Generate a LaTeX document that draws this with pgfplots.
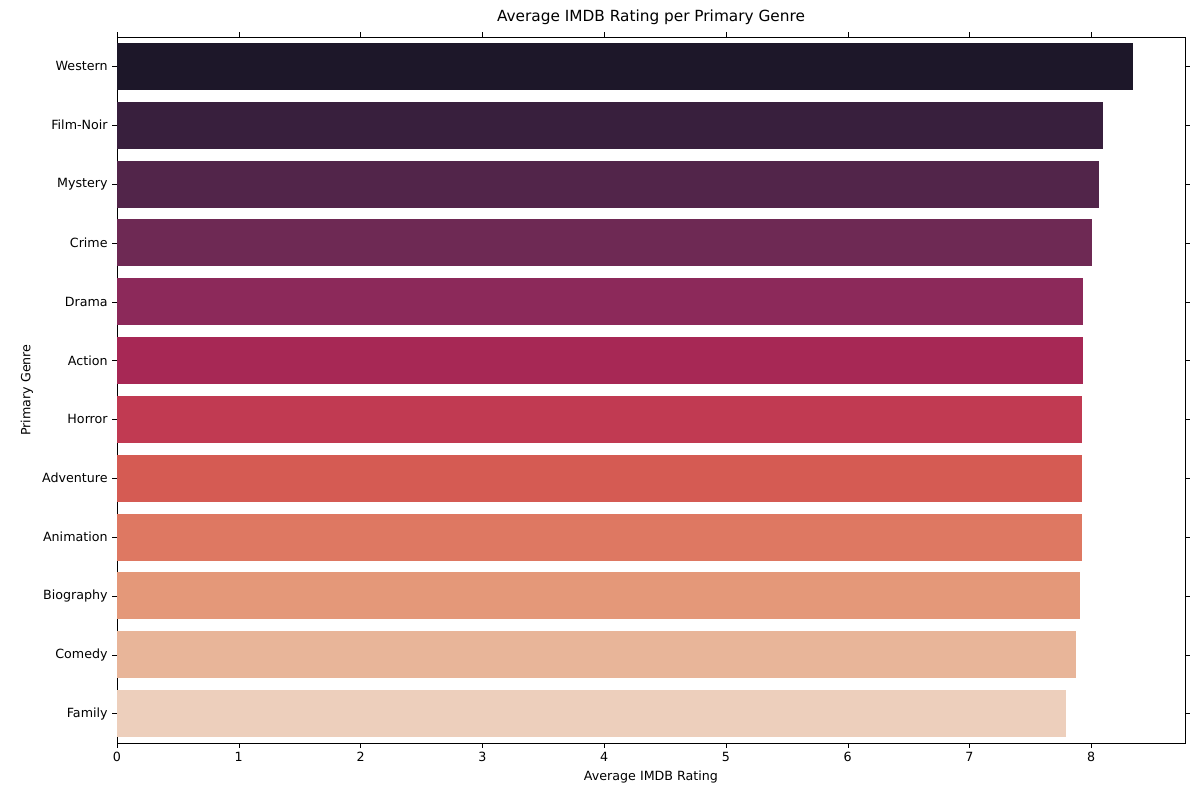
\documentclass[border=0pt]{standalone}
\usepackage{pgfplots}
\pgfplotsset{compat=1.18}
\usepackage{fontspec}
\setmainfont{DejaVu Sans}
\usetikzlibrary{calc}
\definecolor{c0}{RGB}{29,23,41}
\definecolor{c1}{RGB}{56,31,61}
\definecolor{c2}{RGB}{82,37,74}
\definecolor{c3}{RGB}{110,41,84}
\definecolor{c4}{RGB}{140,41,90}
\definecolor{c5}{RGB}{167,40,85}
\definecolor{c6}{RGB}{193,58,82}
\definecolor{c7}{RGB}{213,91,83}
\definecolor{c8}{RGB}{222,120,98}
\definecolor{c9}{RGB}{228,152,121}
\definecolor{c10}{RGB}{232,181,153}
\definecolor{c11}{RGB}{237,207,188}
\begin{document}
\begin{tikzpicture}
\begin{axis}[name=ax,
  width=801pt, height=529.5pt, scale only axis,
  xbar, bar shift=0pt, bar width=0.8,
  xmin=0, xmax=8.77, ymin=-0.5, ymax=11.5, y dir=reverse,
  ytick={0,...,11},
  yticklabels={Western,Film-Noir,Mystery,Crime,Drama,Action,Horror,Adventure,Animation,Biography,Comedy,Family},
  xtick={0,...,8},
  tick style={black}, tick align=outside, major tick length=3.5pt,
  ticklabel style={font=\fontsize{9.5}{11}\selectfont},
  /pgf/number format/assume math mode=true,
  xlabel={Average IMDB Rating}, ylabel={Primary Genre},
  label style={font=\fontsize{9.5}{11}\selectfont},
  title={Average IMDB Rating per Primary Genre},
  title style={font=\fontsize{11.5}{13}\selectfont},
  axis line style={black, line width=0.6pt},
]
\addplot[fill=c0,draw=none] coordinates {(8.345,0)};
\addplot[fill=c1,draw=none] coordinates {(8.10,1)};
\addplot[fill=c2,draw=none] coordinates {(8.066,2)};
\addplot[fill=c3,draw=none] coordinates {(8.008,3)};
\addplot[fill=c4,draw=none] coordinates {(7.934,4)};
\addplot[fill=c5,draw=none] coordinates {(7.934,5)};
\addplot[fill=c6,draw=none] coordinates {(7.926,6)};
\addplot[fill=c7,draw=none] coordinates {(7.926,7)};
\addplot[fill=c8,draw=none] coordinates {(7.926,8)};
\addplot[fill=c9,draw=none] coordinates {(7.91,9)};
\addplot[fill=c10,draw=none] coordinates {(7.877,10)};
\addplot[fill=c11,draw=none] coordinates {(7.795,11)};
\end{axis}
\pgfresetboundingbox
\path ($(ax.south west)+(-87.75pt,-42.75pt)$) rectangle ($(ax.north east)+(11.25pt,27.75pt)$);
\end{tikzpicture}
\end{document}
